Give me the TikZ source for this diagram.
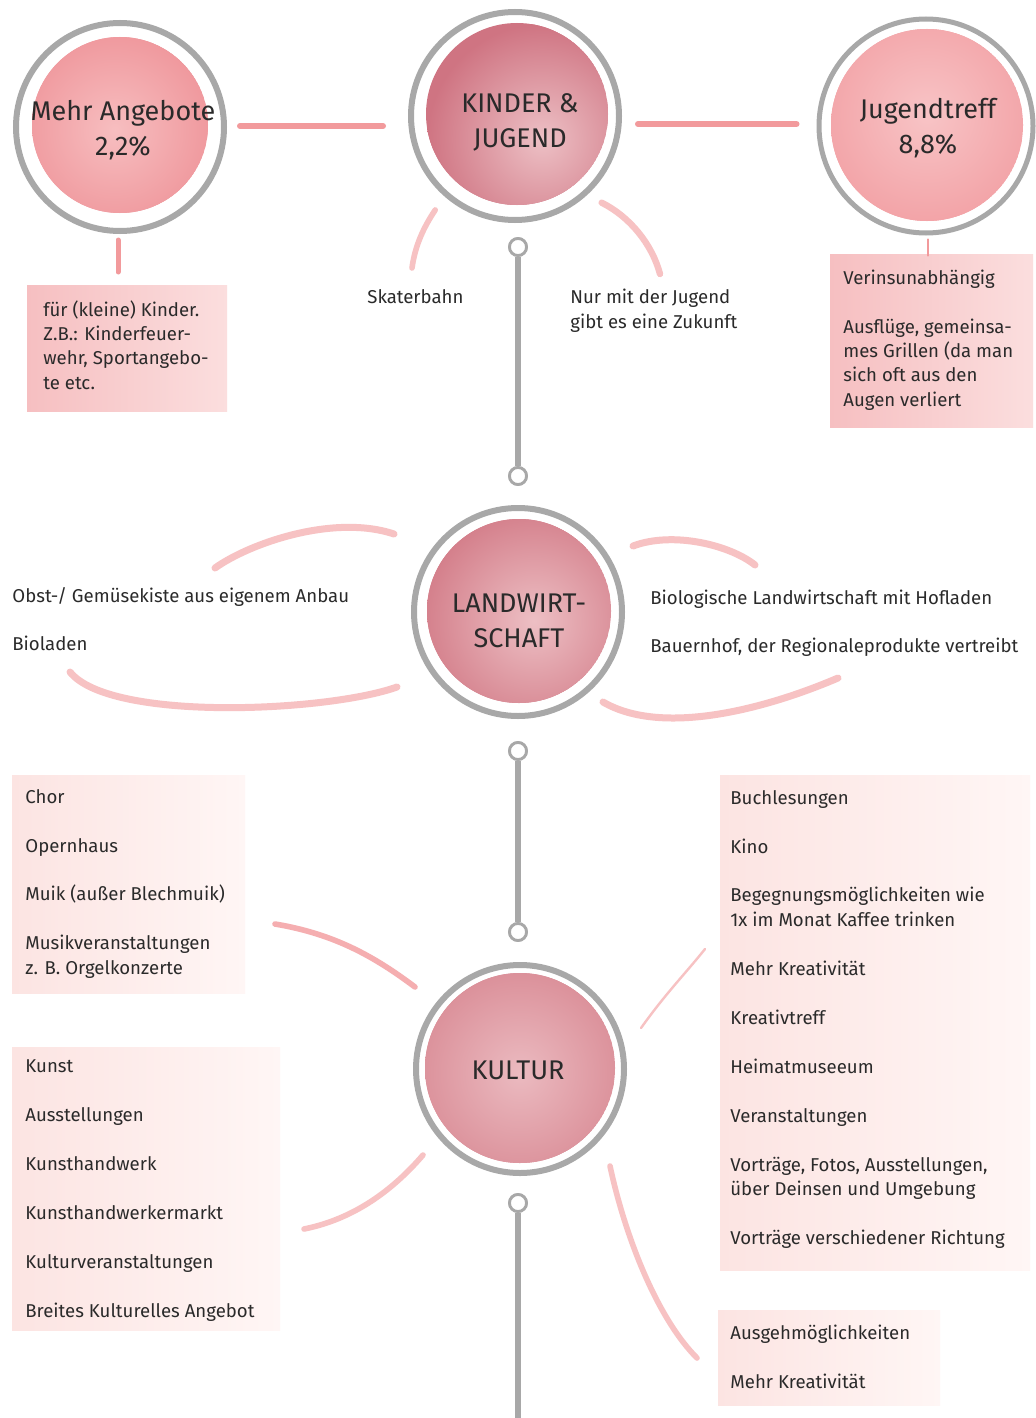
\documentclass[tikz,border=0pt]{standalone}
\usepackage{fontspec}
\setmainfont{Fira Sans}
\usetikzlibrary{calc}
\definecolor{ringgray}{HTML}{A8A8A8}
\definecolor{pinkline}{HTML}{F29A9C}
\definecolor{softline}{HTML}{F7C2C3}
\definecolor{txt}{HTML}{2A2A2A}
\definecolor{maIn}{HTML}{F7BEC0}\definecolor{maOut}{HTML}{EF979C}
\definecolor{kjIn}{HTML}{EDC0C5}\definecolor{kjOut}{HTML}{CF7482}
\definecolor{jtIn}{HTML}{F8C4C6}\definecolor{jtOut}{HTML}{F2A1A5}
\definecolor{lwIn}{HTML}{EDBFC4}\definecolor{lwOut}{HTML}{D37D89}
\definecolor{kuIn}{HTML}{EBBAC0}\definecolor{kuOut}{HTML}{D98B95}
\definecolor{boxA}{HTML}{F6BFC1}\definecolor{boxB}{HTML}{FBDEDE}
\definecolor{boxC}{HTML}{FCE4E2}\definecolor{boxD}{HTML}{FFF6F5}
\newcommand\wcdisk[6]{%
  \begin{scope}
    \clip (#1) circle[radius=#2];
    \fill[#4] (#1) circle[radius=#2];
    \shade[inner color=#3, outer color=#4] ($(#1)+(#5)$) circle[radius=#6];
  \end{scope}}
\begin{document}
\begin{tikzpicture}[x=0.5pt,y=-0.5pt,
  every node/.style={text=txt},
  ring/.style={circle, draw=ringgray, line width=3pt, minimum size=104pt, inner sep=0pt},
  knob/.style={circle, draw=ringgray, line width=1.4pt, fill=white, minimum size=8.5pt, inner sep=0pt},
  big/.style={font=\fontsize{13.5}{17.5}\selectfont, align=center},
  body/.style={font=\fontsize{9.3}{12.5}\selectfont, anchor=base west, inner sep=0pt},
  pstroke/.style={draw=pinkline, line width=3pt, line cap=round},
  sstroke/.style={draw=softline, line width=3.5pt, line cap=round},
  thin/.style={draw=pinkline, line width=1.2pt, line cap=round},
  stem/.style={draw=ringgray, line width=2.6pt}
]
\useasboundingbox (0,0) rectangle (1035,1418);
\fill[white] (0,0) rectangle (1035,1418);

% ---------- boxes ----------
\shade[left color=boxA, right color=boxB] (27,285) rectangle (227,411);
\shade[left color=boxA, right color=boxB] (830,254) rectangle (1033,427);
\shade[left color=boxC, right color=boxD] (12,775) rectangle (245,993);
\shade[left color=boxC, right color=boxD] (12,1047) rectangle (280,1330);
\shade[left color=boxC, right color=boxD] (720,775) rectangle (1030,1270);
\shade[left color=boxC, right color=boxD] (718,1310) rectangle (940,1405);

% ---------- disks ----------
\wcdisk{120,125}{88}{maIn}{maOut}{-5,5}{100}
\wcdisk{517,114}{91}{kjIn}{kjOut}{25,25}{115}
\wcdisk{927,125}{96}{jtIn}{jtOut}{0,-10}{115}
\wcdisk{519,611}{92}{lwIn}{lwOut}{15,10}{115}
\wcdisk{520,1068}{95}{kuIn}{kuOut}{0,5}{115}

% ---------- rings ----------
\node[ring] (ma) at (120,127) {};
\node[ring] (kj) at (515,116) {};
\node[ring, minimum size=107pt, line width=2.5pt] (jt) at (926,126) {};
\node[ring] (lw) at (518,612) {};
\node[ring] (ku) at (520,1069) {};

\node[big] (maT) at (123,130) {Mehr Angebote\\2,2\%};
\node[big] (kjT) at (520,122) {KINDER \&\\JUGEND};
\node[big] (jtT) at (928,128) {Jugendtreff\\8,8\%};
\node[big] (lwT) at (519,621) {LANDWIRT-\\SCHAFT};
\node[big] (kuT) at (518,1070) {KULTUR};

% ---------- gray stems ----------
\node[knob] (k1) at (518,247) {};
\node[knob] (k2) at (518,476) {};
\node[knob] (k3) at (518,751) {};
\node[knob] (k4) at (518,932) {};
\node[knob] (k5) at (518,1203) {};
\coordinate (bot) at (518,1418);
\draw[stem] (k1) -- (k2);
\draw[stem] (k3) -- (k4);
\draw[stem, line width=3pt] (k5) -- (bot);
\node[knob] at (k1) {};
\node[knob] at (k2) {};
\node[knob] at (k3) {};
\node[knob] at (k4) {};
\node[knob] at (k5) {};

% ---------- pink connectors (top) ----------
\draw[pstroke] ($(ma.east)+(13,-1)$) -- ($(kj.west)+(-25,10)$);
\draw[pstroke] ($(kj.east)+(16,8)$) -- ($(jt.west)+(-20,-2)$);
\draw[pstroke, line width=2.5pt] ($(ma.south)+(-2,6)$) -- ($(ma.south)+(-2,38)$);
\draw[thin] ($(jt.south)+(2,4)$) -- ($(jt.south)+(2,20)$);
\coordinate (skt) at (412,268);
\coordinate (nmj) at (660,274);
\draw[sstroke, line width=2.8pt] ($(kj.-130)+(-11,12)$) .. controls +(-12,18) and +(3,-22) .. (skt);
\draw[sstroke, line width=3.2pt] ($(kj.-45)+(11,11)$) .. controls +(28,14) and +(-8,-30) .. (nmj);

\node[body] (sk) at (367,303) {Skaterbahn};
\node[body] (nm1) at (570,303) {Nur mit der Jugend};
\node[body] (nm2) at (570,328) {gibt es eine Zukunft};

\node[body] (b1a) at (43,316) {für (kleine) Kinder.};
\node[body] (b1b) at (43,340) {Z.B.: Kinderfeuer-};
\node[body] (b1c) at (43,364) {wehr, Sportangebo-};
\node[body] (b1d) at (43,389) {te etc.};

\node[body] (b2a) at (843,284) {Verinsunabhängig};
\node[body] (b2b) at (843,333) {Ausflüge, gemeinsa-};
\node[body] (b2c) at (843,357) {mes Grillen (da man};
\node[body] (b2d) at (843,381) {sich oft aus den};
\node[body] (b2e) at (843,406) {Augen verliert};

% ---------- Landwirtschaft ----------
\coordinate (ul) at (215,568);
\coordinate (ll) at (70,672);
\coordinate (ur) at (755,565);
\coordinate (lr) at (838,678);
\draw[sstroke] ($(lw.west)+(-17,-78)$) .. controls +(-60,-20) and +(35,-25) .. (ul);
\draw[sstroke] (ll) .. controls +(40,50) and +(-70,25) .. ($(lw.west)+(-14,75)$);
\draw[sstroke] ($(lw.east)+(8,-66)$) .. controls +(40,-15) and +(-25,-20) .. (ur);
\draw[sstroke] ($(lw.east)+(-22,90)$) .. controls +(60,35) and +(-70,30) .. (lr);

\node[body] (l1) at (12,602) {Obst-/ Gemüsekiste aus eigenem Anbau};
\node[body] (l2) at (12,650) {Bioladen};
\node[body] (r1) at (650,604) {Biologische Landwirtschaft mit Hofladen};
\node[body] (r2) at (650,652) {Bauernhof, der Regionaleprodukte vertreibt};

% ---------- Kultur ----------
\coordinate (c1) at (275,924);
\coordinate (c2) at (304,1229);
\coordinate (c3) at (705,949);
\coordinate (c4) at (697,1358);
\draw[sstroke, draw=pinkline!80, line width=2.8pt] (c1) .. controls +(60,10) and +(-40,-30) .. ($(ku.west)+(2,-82)$);
\draw[sstroke, line width=2.8pt] (c2) .. controls +(50,-10) and +(-30,35) .. ($(ku.west)+(10,86)$);
\draw[thin, draw=softline] ($(ku.east)+(14,-41)$) .. controls +(25,-35) and +(-20,25) .. (c3);
\draw[sstroke, line width=2.8pt] ($(ku.east)+(-17,97)$) .. controls +(15,70) and +(-40,-40) .. (c4);

\node[body] (k11) at (25,803) {Chor};
\node[body] (k12) at (25,852) {Opernhaus};
\node[body] (k13) at (25,900) {Muik (außer Blechmuik)};
\node[body] (k14) at (25,949) {Musikveranstaltungen};
\node[body] (k15) at (25,974) {z. B. Orgelkonzerte};

\node[body] (k21) at (25,1072) {Kunst};
\node[body] (k22) at (25,1121) {Ausstellungen};
\node[body] (k23) at (25,1170) {Kunsthandwerk};
\node[body] (k24) at (25,1219) {Kunsthandwerkermarkt};
\node[body] (k25) at (25,1268) {Kulturveranstaltungen};
\node[body] (k26) at (25,1317) {Breites Kulturelles Angebot};

\node[body] (k31) at (730,804) {Buchlesungen};
\node[body] (k32) at (730,853) {Kino};
\node[body] (k33) at (730,901) {Begegnungsmöglichkeiten wie};
\node[body] (k34) at (730,926) {1x im Monat Kaffee trinken};
\node[body] (k35) at (730,975) {Mehr Kreativität};
\node[body] (k36) at (730,1024) {Kreativtreff};
\node[body] (k37) at (730,1073) {Heimatmuseeum};
\node[body] (k38) at (730,1122) {Veranstaltungen};
\node[body] (k39) at (730,1171) {Vorträge, Fotos, Ausstellungen,};
\node[body] (k3a) at (730,1195) {über Deinsen und Umgebung};
\node[body] (k3b) at (730,1244) {Vorträge verschiedener Richtung};

\node[body] (k41) at (730,1339) {Ausgehmöglichkeiten};
\node[body] (k42) at (730,1388) {Mehr Kreativität};
\end{tikzpicture}
\end{document}
